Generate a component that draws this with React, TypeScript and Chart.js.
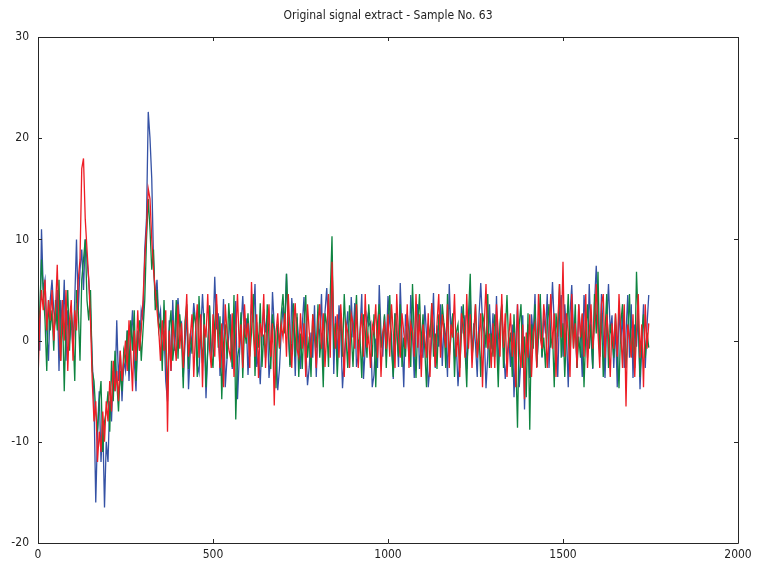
import React, { useEffect, useRef } from "react";
import { Chart, registerables } from "chart.js";

Chart.register(...registerables);

const TITLE = "Original signal extract - Sample No. 63";
const SAMPLE_STEP = 5;
const X_TICKS = [0, 500, 1000, 1500, 2000];
const Y_TICKS = [-20, -10, 0, 10, 20, 30];

const blueSeries = [
  3,-1,11,5,6,1,-2,4,6,3,
  2,5,-3,4,1,6,-2,3,0,2,
  -1,4,10,3,7,9,5,10,8,6,
  3,-2,-6,-16,-9,-5,-12,-8,-16.5,-10,
  -12,-6,-8,-3,-5,2,-4,-1,-6,-2,
  -3,1,-4,0,3,-2,-5,1,-1,3,
  2,9,12,22.6,20,16,8,4,6,2,
  3,-2,1,-4,-6,2,-3,4,-1,2,
  4.2,1.5,1.8,-3.6,-0.4,2.9,-4.8,-1.2,0.6,3.7,
  1.9,-2.4,-3.2,0.8,4.6,1.3,-5.7,-0.9,3.4,-2.1,
  0.6,6.3,1.1,2.7,-3.5,-0.9,4.1,-4.6,-1.8,0.4,
  2.6,-2.8,-0.3,3.9,-5.8,-1.7,1.2,4.4,0.7,2.2,
  -3.4,0.5,3.6,1.8,5.6,-2.6,-1.4,-4.3,0.2,3.1,
  0.8,2.5,-3.7,-1.6,4.8,1.4,-0.3,-4.9,-2.7,0.9,
  3.3,1.6,6.6,0.7,-2.4,4.2,1.9,-3.5,2.3,-0.2,
  -2.8,1.5,4.3,-0.6,-4.4,-2.6,0.8,-1.7,3.5,-3.6,
  1.4,0.5,4.6,-2.7,2.8,5.2,1.3,-0.6,8.4,-3.3,
  2.4,-1.8,3.5,0.9,-4.7,-1.6,0.8,2.9,-2.6,4.3,
  0.3,3.7,-2.6,-1.4,0.9,4.6,-3.8,-0.7,2.5,1.5,
  1.8,-4.6,-3.4,0.2,-2.7,5.5,0.8,-1.6,2.4,-0.7,
  4.4,1.7,0.6,-3.8,2.7,1.5,-2.6,5.7,0.3,-4.6,
  2.6,0.7,-1.6,4.5,0.8,-3.7,1.8,3.6,-2.8,-0.5,
  -1.7,3.5,0.6,-4.6,-2.6,0.4,4.7,-2.7,1.5,-0.6,
  3.6,-2.5,1.7,0.4,-3.6,5.6,0.7,2.6,-1.8,-0.2,
  -4.5,-1.6,3.4,0.7,2.5,-2.8,0.6,4.5,-1.6,1.7,
  -0.4,-3.6,2.4,5.7,1.8,0.6,-4.7,-1.5,3.6,-0.8,
  2.7,-1.6,4.4,-2.7,0.8,3.5,-0.6,-3.8,-1.7,0.3,
  -2.6,1.6,-5.6,-0.7,3.6,-4.6,-1.7,2.5,-6.8,-0.6,
  1.6,-3.7,2.6,0.4,4.6,-2.6,0.6,3.7,-1.7,2.5,
  0.7,4.6,-2.7,1.5,5.8,1.6,0.7,-3.6,2.6,4.5,
  -1.6,3.6,0.7,-4.6,2.6,5.5,0.8,1.6,-2.7,3.6,
  0.6,-3.6,4.5,1.6,-1.7,5.6,0.3,-2.8,3.6,7.4,
  2.6,-1.6,4.6,0.6,-3.7,1.7,5.6,0.8,2.5,-2.7,
  1.6,-4.6,3.5,-0.3,2.6,-2.7,0.7,4.5,-1.7,3.6,
  -3.7,1.6,-0.6,2.7,-4.8,-0.6,3.6,-2.7,1.5,4.5,
];

const greenSeries = [
  0,3,8,5,2,-3,4,1,3,-1,
  4,1,6,-2,3,-5,2,5,-1,3,
  1,-4,5,3,-2,6,8,10,4,2,
  5,-3,-4,-7,-9,-6,-4,-11,-8,-7,
  -5,-9,-2,-6,-1,-4,-7,-3,-5,-1,
  -2,1,-3,2,-1,3,-4,0,2,-2,
  1,4,10,14,11,7,9,3,5,1,
  2,-3,4,-1,-5,1,3,-2,0,4,
  -1.8,2.6,0.4,-4.7,1.9,3.6,-2.8,0.7,-1.3,2.8,
  1.7,-3.6,4.4,0.3,-2.2,2.7,-4.6,-0.8,3.5,-1.2,
  -2.7,1.8,3.6,-0.7,2.4,-5.8,-0.4,1.6,-1.8,3.7,
  0.8,-2.6,4.5,-7.8,-1.7,-0.6,2.8,-3.7,1.2,-0.3,
  2.7,-1.6,0.8,4.6,-3.5,1.8,-0.7,3.7,-2.6,0.6,
  -1.7,3.6,0.4,-2.8,2.6,0.9,-4.7,1.7,-0.8,2.6,
  4.6,0.7,6.6,1.8,-2.6,-0.3,3.7,-1.6,2.7,-3.6,
  0.7,-2.8,1.6,4.5,-1.7,0.4,-3.6,2.6,0.8,-0.7,
  3.6,-1.7,0.7,-4.6,2.7,1.6,-2.6,4.5,10.3,-0.8,
  1.7,-3.6,0.6,2.7,-1.6,4.6,0.3,-2.7,3.5,0.8,
  -2.6,1.7,4.5,-0.6,0.4,-3.7,2.6,0.8,-1.7,3.6,
  0.8,-1.6,2.6,-4.6,1.7,3.6,-0.7,0.4,2.6,-2.7,
  1.6,4.5,-0.8,-3.6,2.7,0.7,-1.6,3.6,-2.6,0.3,
  -1.6,2.7,0.8,-2.6,5.6,0.4,-3.7,1.6,4.6,-0.7,
  2.6,-0.8,-4.6,1.7,0.3,3.7,-1.6,0.7,-2.8,2.6,
  -0.7,3.6,1.6,-2.7,4.6,-1.6,0.4,2.7,-3.6,0.8,
  1.6,-2.7,0.7,3.6,-0.8,-4.6,2.6,6.6,-1.7,0.3,
  3.6,-1.6,0.8,-3.6,2.7,1.6,-0.7,4.6,-2.7,0.7,
  -1.6,2.6,0.3,-4.6,1.7,3.6,-2.7,0.8,4.5,-0.7,
  0.8,-3.6,2.6,-1.7,-8.6,1.6,3.6,-2.7,0.4,-5.6,
  2.7,-8.8,1.6,-0.8,3.6,-2.6,0.7,4.6,-1.6,0.3,
  -2.7,1.6,3.6,-0.7,0.8,-4.6,2.7,0.4,5.6,-1.7,
  1.7,-3.6,0.8,4.6,-1.6,2.7,-0.7,3.6,-2.7,0.4,
  -1.7,2.6,-4.6,0.8,3.6,-0.8,1.6,-2.7,4.6,0.7,
  6.8,-1.6,2.7,-3.6,0.8,4.6,-2.7,1.6,0.3,-1.7,
  2.6,-0.8,-4.7,1.6,3.6,0.4,-2.7,0.8,4.6,-1.6,
  0.8,-2.7,6.8,1.7,-3.6,0.3,2.6,-1.7,0.8,-0.7,
];

const redSeries = [
  -4,2,5,3,6,1,4,2,5,0,
  3,7.5,1,-2,4,0,5,-3,2,4,
  -2,3,1,6,8,17,18,12,9,6,
  2,-4,-8,-6,-12,-9,-11,-7,-10,-6,
  -8,-4,-7,-2,-5,-3,-6,-1,-4,-2,
  0,-3,2,-1,-5,1,-2,3,-1,1,
  4,8,11,15,14,10,7,5,3,1,
  -2,2,-1,3,-9,1,-3,2,0,-2,
  3.6,-0.8,1.7,-2.7,0.8,4.6,-1.6,0.4,2.6,-3.6,
  0.8,3.6,-1.7,2.6,-4.6,1.6,0.3,4.6,-0.8,-2.7,
  2.6,-1.6,4.6,0.4,-2.7,1.7,-4.6,3.6,0.8,-0.8,
  -1.7,2.7,-3.6,0.8,4.6,-0.7,1.6,-2.7,3.6,0.3,
  1.7,-2.7,5.8,0.8,-1.6,2.6,-3.7,1.7,0.4,4.6,
  -2.7,0.8,3.6,-1.6,1.7,-6.4,0.8,2.7,-0.7,1.6,
  0.3,2.7,-1.6,4.6,0.8,-2.7,1.6,3.7,-0.8,-1.6,
  2.7,-0.8,1.7,-3.6,3.6,0.8,-1.7,2.6,0.4,-2.7,
  1.6,3.6,-0.8,2.7,-2.6,0.8,4.6,-1.7,7.8,1.6,
  -0.8,2.6,-1.7,3.6,0.3,-3.6,1.7,0.8,-2.7,2.6,
  1.7,-0.8,3.6,-2.7,0.8,2.7,-1.6,4.6,-0.7,0.4,
  -2.7,1.6,0.8,3.6,-1.7,2.6,-3.6,0.8,1.7,-0.8,
  2.6,-1.6,3.6,0.8,-2.7,4.6,0.3,-1.7,2.7,0.8,
  -0.8,3.6,-2.7,1.7,0.8,-1.6,4.6,-0.7,2.6,-3.6,
  1.6,0.3,-1.7,2.7,-3.6,3.7,0.8,-2.6,1.7,4.6,
  -1.7,2.6,0.8,-0.7,3.6,-2.7,1.6,0.3,4.6,-1.6,
  0.8,-3.6,2.7,1.6,-1.7,4.6,-0.8,2.6,-2.7,0.8,
  3.6,-1.7,0.3,2.7,-4.6,1.6,5.6,-0.8,0.7,-2.7,
  1.7,-2.7,3.6,0.8,-1.6,4.6,-0.7,2.7,-3.6,0.3,
  2.7,-1.6,0.8,-4.6,3.6,-0.8,-2.7,1.6,-5.8,0.8,
  -1.7,2.6,-3.6,0.8,1.7,-2.7,4.6,0.3,-0.8,3.6,
  1.6,-2.7,0.8,4.6,-0.8,2.7,-3.6,1.7,5.6,0.3,
  7.8,-1.6,2.7,0.8,-3.6,4.6,-0.8,1.7,-2.7,3.6,
  0.3,2.7,-1.6,4.6,-2.7,0.8,3.6,-0.8,1.6,5.6,
  0.8,-2.7,3.6,4.6,-1.7,2.6,0.3,-3.6,1.7,-0.8,
  2.7,-1.6,4.6,0.8,-2.7,3.6,-6.5,1.6,0.3,-1.7,
  2.6,-3.6,0.8,4.6,-1.7,1.6,-4.6,3.6,-0.8,1.7,
];

const FONT_FAMILY = "'Liberation Sans Narrow', 'DejaVu Sans Condensed', 'Roboto Condensed', sans-serif";

function toPoints(values: number[]) {
  return values.map((y, i) => ({ x: i * SAMPLE_STEP, y }));
}

const framePlugin = {
  id: "frameTicks",
  afterDraw(chart: any) {
    const { ctx, chartArea: a, scales } = chart;
    const xs = scales.x;
    const ys = scales.y;
    ctx.save();
    ctx.strokeStyle = "#262626";
    ctx.lineWidth = 1;
    ctx.beginPath();
    ctx.rect(Math.round(a.left) + 0.5, Math.round(a.top) + 0.5, Math.round(a.right - a.left), Math.round(a.bottom - a.top));
    ctx.stroke();
    const tl = 4;
    ctx.beginPath();
    X_TICKS.forEach((v) => {
      const px = Math.round(xs.getPixelForValue(v)) + 0.5;
      ctx.moveTo(px, a.bottom);
      ctx.lineTo(px, a.bottom - tl);
      ctx.moveTo(px, a.top);
      ctx.lineTo(px, a.top + tl);
    });
    Y_TICKS.forEach((v) => {
      const py = Math.round(ys.getPixelForValue(v)) + 0.5;
      ctx.moveTo(a.left, py);
      ctx.lineTo(a.left + tl, py);
      ctx.moveTo(a.right, py);
      ctx.lineTo(a.right - tl, py);
    });
    ctx.stroke();
    ctx.fillStyle = "#222";
    ctx.font = `12px ${FONT_FAMILY}`;
    ctx.textAlign = "center";
    ctx.textBaseline = "middle";
    ctx.fillText(TITLE, (a.left + a.right) / 2, 16);
    ctx.restore();
  },
};

export default function App() {
  const ref = useRef<HTMLCanvasElement | null>(null);
  useEffect(() => {
    document.body.style.margin = "0";
    const canvas = ref.current;
    if (!canvas) return;
    const chart = new Chart(canvas, {
      type: "line",
      data: {
        datasets: [
          { label: "blue", data: toPoints(blueSeries), borderColor: "#3552a5", borderWidth: 1.3, pointRadius: 0, fill: false, tension: 0, order: 3 },
          { label: "green", data: toPoints(greenSeries), borderColor: "#0e8440", borderWidth: 1.3, pointRadius: 0, fill: false, tension: 0, order: 2 },
          { label: "red", data: toPoints(redSeries), borderColor: "#ee1d25", borderWidth: 1.3, pointRadius: 0, fill: false, tension: 0, order: 1 },
        ],
      },
      options: {
        animation: false,
        responsive: false,
        maintainAspectRatio: false,
        layout: { padding: { top: 37, right: 21, left: 0, bottom: 0 } },
        plugins: { legend: { display: false }, tooltip: { enabled: false }, title: { display: false } },
        scales: {
          x: {
            type: "linear",
            min: 0,
            max: 2000,
            afterFit: (s: any) => { s.height = 20; },
            afterBuildTicks: (s: any) => { s.ticks = X_TICKS.map((v) => ({ value: v })); },
            ticks: { color: "#222", font: { family: FONT_FAMILY, size: 12 }, padding: 5, maxRotation: 0, autoSkip: false, callback: (v: any) => String(v) },
            grid: { display: false, drawTicks: false },
            border: { display: false },
          },
          y: {
            type: "linear",
            min: -20,
            max: 30,
            afterFit: (s: any) => { s.width = 38; },
            afterBuildTicks: (s: any) => { s.ticks = Y_TICKS.map((v) => ({ value: v })); },
            ticks: { color: "#222", font: { family: FONT_FAMILY, size: 12 }, padding: 9, autoSkip: false, callback: (v: any) => String(v) },
            grid: { display: false, drawTicks: false },
            border: { display: false },
          },
        },
      },
      plugins: [framePlugin],
    } as any);
    return () => chart.destroy();
  }, []);
  return (
    <div style={{ width: 759, height: 563 }}>
      <canvas ref={ref} width={759} height={563} style={{ width: 759, height: 563, display: "block" }} />
    </div>
  );
}
